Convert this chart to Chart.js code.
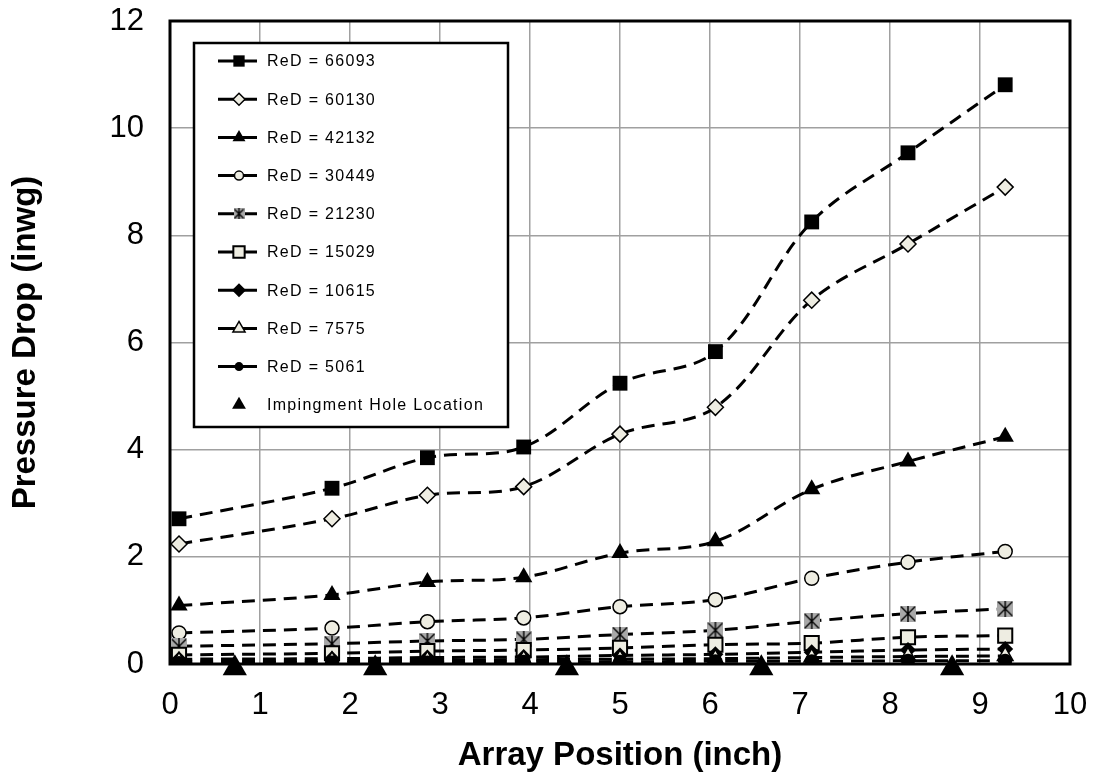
<!DOCTYPE html>
<html>
<head>
<meta charset="utf-8">
<script src="https://cdn.jsdelivr.net/npm/chart.js@4.4.1/dist/chart.umd.min.js"></script>
<style>
html, body { margin: 0; padding: 0; background: #fff; }
#wrap { width: 1098px; height: 776px; }
</style>
</head>
<body>
<div id="wrap"><canvas id="dp-chart"></canvas></div>
<script>
// array positions (inch) shared by all Re series
const positions = [0.1, 1.8, 2.86, 3.93, 5.0, 6.06, 7.13, 8.2, 9.28];

const re66093 = [2.71, 3.28, 3.85, 4.05, 5.24, 5.83, 8.25, 9.54, 10.81];
const re60130 = [2.24, 2.71, 3.15, 3.31, 4.29, 4.79, 6.79, 7.84, 8.90];
const re42132 = [1.09, 1.29, 1.53, 1.62, 2.07, 2.29, 3.26, 3.78, 4.24];
const re30449 = [0.58, 0.67, 0.79, 0.86, 1.07, 1.20, 1.60, 1.90, 2.10];
const re21230 = [0.33, 0.38, 0.43, 0.46, 0.55, 0.63, 0.80, 0.94, 1.03];
const re15029 = [0.17, 0.20, 0.24, 0.26, 0.30, 0.36, 0.39, 0.50, 0.53];
const re10615 = [0.09, 0.10, 0.12, 0.13, 0.16, 0.18, 0.22, 0.26, 0.28];
const re7575  = [0.05, 0.06, 0.07, 0.08, 0.09, 0.10, 0.12, 0.14, 0.15];
const re5061  = [0.02, 0.03, 0.03, 0.04, 0.04, 0.05, 0.05, 0.06, 0.06];

const holeX = [0.72, 2.28, 4.41, 6.57, 8.69];
const holeY = [-0.08, -0.08, -0.08, -0.08, -0.08];

const labels = ['ReD = 66093', 'ReD = 60130', 'ReD = 42132', 'ReD = 30449', 'ReD = 21230',
  'ReD = 15029', 'ReD = 10615', 'ReD = 7575', 'ReD = 5061'];

const fontFamily = '"Liberation Sans", Arial, sans-serif';
const cream = 'rgb(238,237,226)';

function makeStar(size) {
  const c = document.createElement('canvas');
  c.width = size; c.height = size;
  const g = c.getContext('2d');
  g.fillStyle = '#a8a8a8';
  g.fillRect(0, 0, size, size);
  g.strokeStyle = '#000';
  g.lineWidth = 1.4;
  g.beginPath();
  g.moveTo(1, 1); g.lineTo(size - 1, size - 1);
  g.moveTo(size - 1, 1); g.lineTo(1, size - 1);
  g.moveTo(size / 2, 0); g.lineTo(size / 2, size);
  g.stroke();
  return c;
}
const starBig = makeStar(16);
const starSmall = makeStar(11);

function pts(ys) {
  return positions.map((x, i) => ({x: x, y: ys[i]}));
}

function series(i, ys, style) {
  return Object.assign({
    label: labels[i],
    data: pts(ys),
    borderColor: '#000',
    borderWidth: 3,
    borderDash: [13, 8],
    tension: 0.35,
    fill: false,
    order: 20 - i,
    pointBorderColor: '#000'
  }, style);
}

const datasets = [
  series(0, re66093, {pointStyle: 'rect', pointRadius: 10.5, pointBackgroundColor: '#000', pointBorderWidth: 0, legendRadius: 8}),
  series(1, re60130, {pointStyle: 'rectRot', pointRadius: 8, pointBackgroundColor: cream, pointBorderWidth: 1.5, legendRadius: 6}),
  series(2, re42132, {pointStyle: 'triangle', pointRadius: 10, pointBackgroundColor: '#000', pointBorderWidth: 0, legendRadius: 7.5}),
  series(3, re30449, {pointStyle: 'circle', pointRadius: 7, pointBackgroundColor: cream, pointBorderWidth: 1.5, legendRadius: 4.5}),
  series(4, re21230, {pointStyle: starBig, pointRadius: 8, pointBackgroundColor: '#a8a8a8', pointBorderWidth: 0, legendStyle: starSmall, legendRadius: 6}),
  series(5, re15029, {pointStyle: 'rect', pointRadius: 10, pointBackgroundColor: cream, pointBorderWidth: 2, legendRadius: 8}),
  series(6, re10615, {pointStyle: 'rectRot', pointRadius: 8, pointBackgroundColor: '#000', pointBorderWidth: 0, legendRadius: 7}),
  series(7, re7575, {pointStyle: 'triangle', pointRadius: 9, pointBackgroundColor: cream, pointBorderWidth: 1.5, legendRadius: 7}),
  series(8, re5061, {pointStyle: 'circle', pointRadius: 7, pointBackgroundColor: '#000', pointBorderWidth: 0, legendRadius: 4.5}),
  {
    label: 'Impingment Hole Location',
    data: holeX.map((x, i) => ({x: x, y: holeY[i]})),
    showLine: false,
    pointStyle: 'triangle',
    pointRadius: 14,
    pointBackgroundColor: '#000',
    pointBorderColor: '#000',
    pointBorderWidth: 0,
    clip: false,
    order: 0,
    legendRadius: 8
  }
];

// thick frame round the plot area
const frame = {
  id: 'frame',
  beforeDatasetsDraw(chart) {
    const {ctx, chartArea: a} = chart;
    ctx.save();
    ctx.lineWidth = 3;
    ctx.strokeStyle = '#000';
    ctx.strokeRect(a.left, a.top, a.right - a.left, a.bottom - a.top);
    ctx.restore();
  }
};

// boxed legend inside the plot, top left
const legendBox = {
  id: 'legendBox',
  afterDatasetsDraw(chart) {
    const {ctx, chartArea} = chart;
    const bx = chartArea.left + 24, by = chartArea.top + 22, bw = 314, bh = 384;
    ctx.save();
    ctx.fillStyle = '#fff';
    ctx.fillRect(bx, by, bw, bh);
    ctx.lineWidth = 2.5;
    ctx.strokeStyle = '#000';
    ctx.strokeRect(bx, by, bw, bh);
    ctx.font = '16px ' + fontFamily;
    ctx.letterSpacing = '1.3px';
    ctx.textBaseline = 'middle';
    chart.data.datasets.forEach((ds, i) => {
      const y = by + 18 + i * 38.2;
      ctx.strokeStyle = '#000';
      if (ds.showLine !== false) {
        ctx.setLineDash([]);
        ctx.lineWidth = 3;
        ctx.beginPath();
        ctx.moveTo(bx + 24, y);
        ctx.lineTo(bx + 63, y);
        ctx.stroke();
      }
      ctx.fillStyle = ds.pointBackgroundColor || '#000';
      ctx.lineWidth = ds.pointBorderWidth || 0;
      Chart.helpers.drawPoint(ctx, {
        pointStyle: ds.legendStyle || ds.pointStyle,
        rotation: 0,
        radius: ds.legendRadius,
        borderWidth: ds.pointBorderWidth || 0
      }, bx + 45, y);
      ctx.fillStyle = '#000';
      ctx.fillText(ds.label, bx + 73, y + 1);
    });
    ctx.restore();
  }
};

const ctx = document.getElementById('dp-chart').getContext('2d');
const dpChart = new Chart(ctx, {
  type: 'line',
  data: { datasets: datasets },
  plugins: [frame, legendBox],
  options: {
    responsive: true,
    maintainAspectRatio: false,
    animation: false,
    events: [],
    layout: { padding: { top: 21, right: 28, left: 0, bottom: 0 } },
    scales: {
      x: {
        type: 'linear',
        min: 0,
        max: 10,
        ticks: { stepSize: 1, color: '#000', padding: 23, font: { size: 31, family: fontFamily } },
        grid: { color: '#a0a0a0', lineWidth: 1.5, drawTicks: false },
        border: { display: false },
        title: {
          display: true,
          text: 'Array Position (inch)',
          color: '#000',
          font: { size: 33, weight: 'bold', family: fontFamily },
          padding: { top: 0, bottom: 0 }
        },
        afterFit(s) { s.height = 112; s.paddingLeft = 0; s.paddingRight = 0; }
      },
      y: {
        min: 0,
        max: 12,
        ticks: { stepSize: 2, color: '#000', padding: 26, font: { size: 31, family: fontFamily } },
        grid: { color: '#a0a0a0', lineWidth: 1.5, drawTicks: false },
        border: { display: false },
        title: {
          display: true,
          text: 'Pressure Drop (inwg)',
          color: '#000',
          font: { size: 33, weight: 'bold', family: fontFamily },
          padding: { top: 6, bottom: 0 }
        },
        afterFit(s) { s.width = 170; s.paddingTop = 0; s.paddingBottom = 0; }
      }
    },
    plugins: {
      legend: { display: false },
      tooltip: { enabled: false }
    }
  }
});
</script>
</body>
</html>
